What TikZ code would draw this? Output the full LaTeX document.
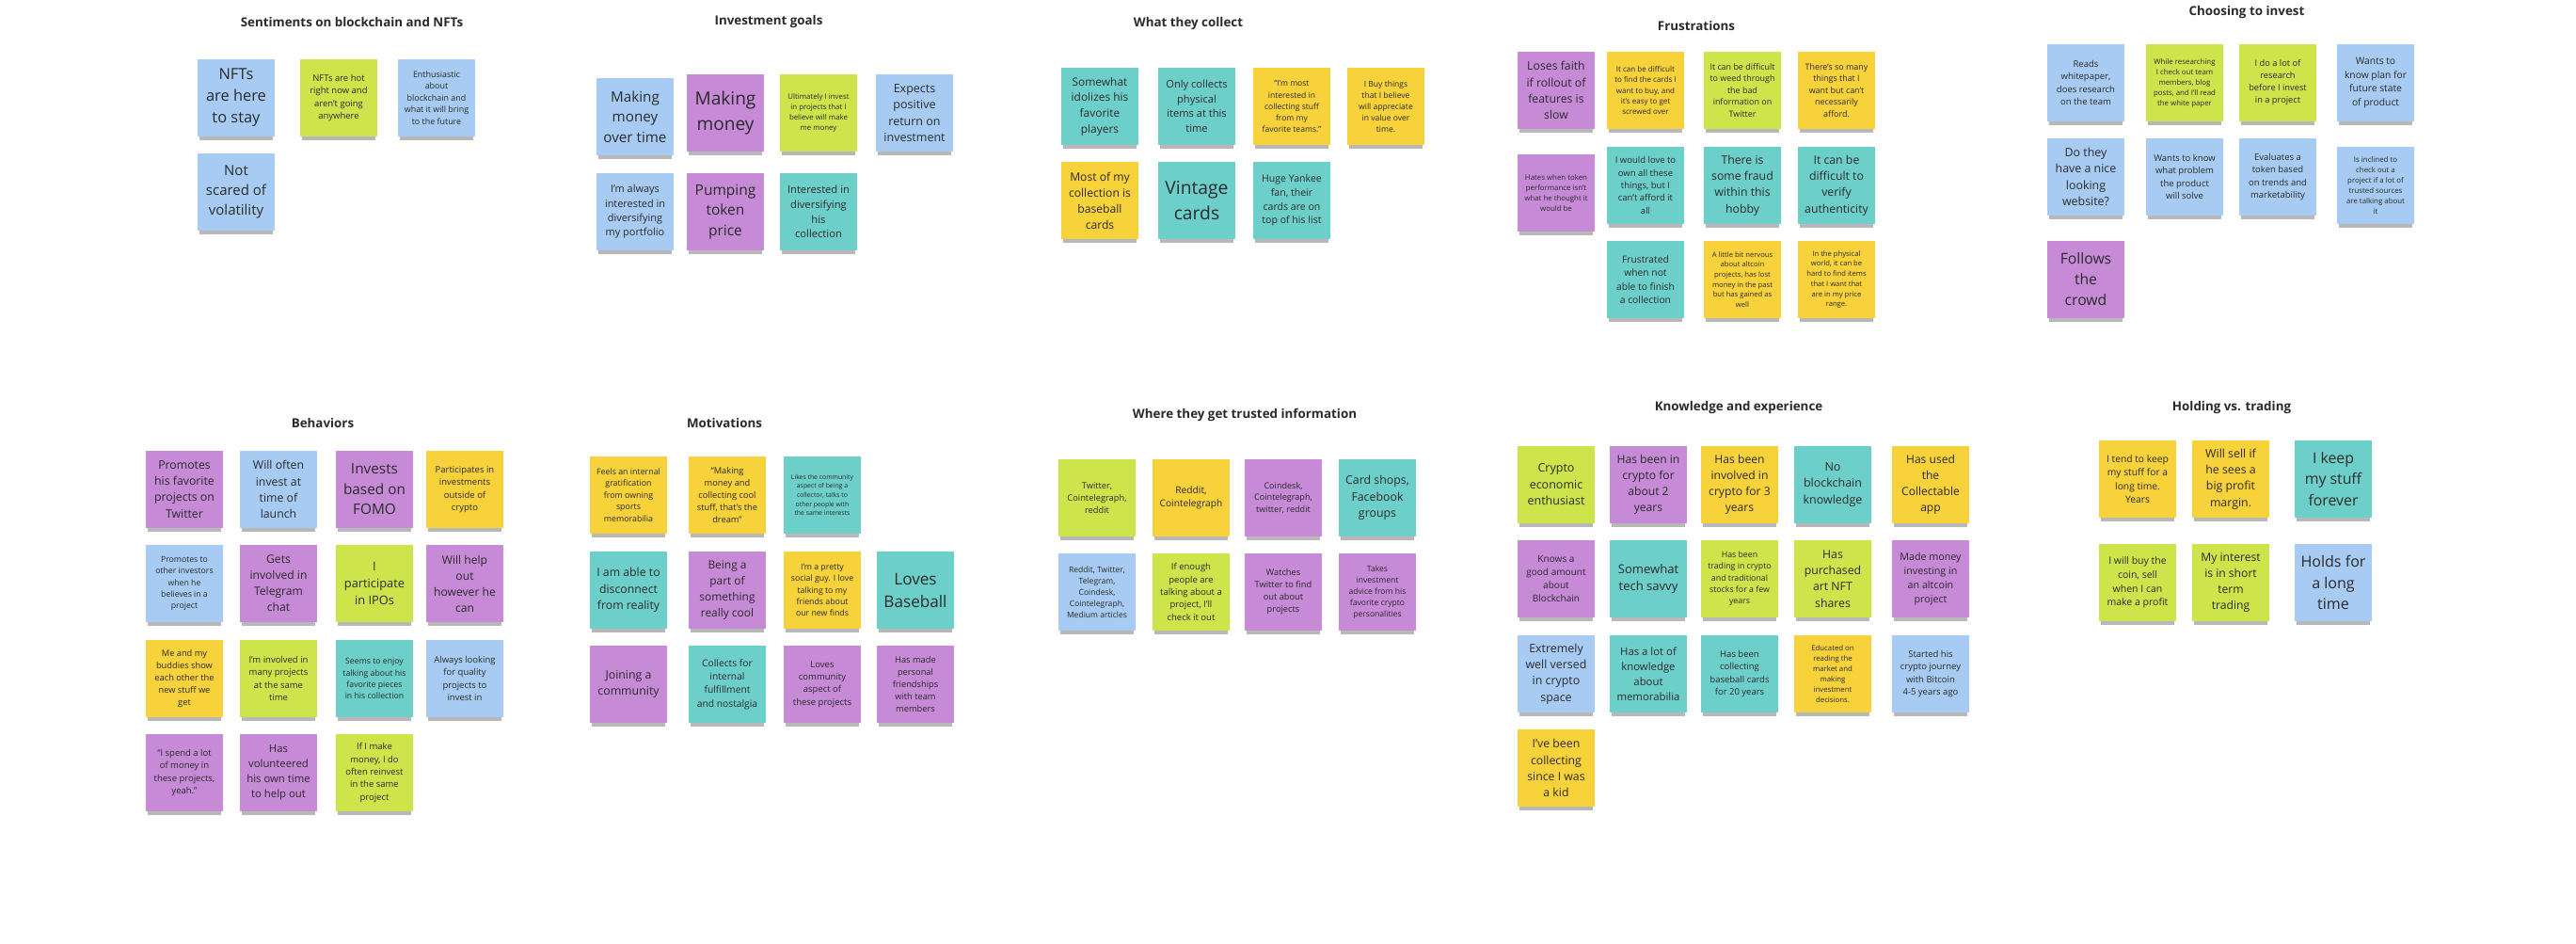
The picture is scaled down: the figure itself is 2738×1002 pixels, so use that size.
\documentclass[tikz,border=0pt]{standalone}
\usepackage{fontspec}
\setmainfont{Open Sans}
\usetikzlibrary{shadows}
\definecolor{sblue}{HTML}{A7CBF2}
\definecolor{sgreen}{HTML}{CDE54A}
\definecolor{spurple}{HTML}{C68AD7}
\definecolor{syellow}{HTML}{F8D23A}
\definecolor{steal}{HTML}{6DCFC9}
\definecolor{stext}{HTML}{2A2A2A}
\tikzset{
  sticky/.style={minimum width=0.82cm, minimum height=0.82cm, inner sep=0.5pt, align=center, text=stext,
    drop shadow={shadow xshift=0cm, shadow yshift=-0.055cm, shadow scale=0.96, opacity=0.28, fill=black}},
  grouptitle/.style={font=\bfseries\fontsize{3.8pt}{4.6pt}\selectfont, text=stext, inner sep=0pt}
}
\newcommand\sticky[6]{%
  \pgfmathsetmacro\stfs{#5*0.203}\pgfmathsetmacro\stbs{#5*0.2845}%
  \node[sticky, fill=#4, font=\fontsize{\stfs pt}{\stbs pt}\selectfont] (#1) at (#2,#3) {#6};}
\begin{document}
\begin{tikzpicture}[x=0.01cm, y=-0.01cm]
\fill[white] (0,0) rectangle (2738,1002);
\useasboundingbox (0,0) rectangle (2738,1002);
% ---------- Sentiments
\node[grouptitle] (tsent) at (374,23) {Sentiments on blockchain and NFTs};
\sticky{s1}{251}{104}{sblue}{23}{NFTs\\are here\\to stay}
\sticky{s2}{360}{104}{sgreen}{13.3}{NFTs are hot\\right now and\\aren't going\\anywhere}
\sticky{s3}{464}{104}{sblue}{12.5}{Enthusiastic\\about\\blockchain and\\what it will bring\\to the future}
\sticky{s4}{251}{204}{sblue}{21}{Not\\scared of\\volatility}
% ---------- Investment goals
\node[grouptitle] (tgoal) at (817,23) {Investment goals};
\sticky{g1}{675}{124}{sblue}{21.3}{Making\\money\\over time}
\sticky{g2}{771}{120}{spurple}{26.7}{Making\\money}
\sticky{g3}{870}{120}{sgreen}{11}{Ultimately I invest\\in projects that I\\believe will make\\me money}
\sticky{g4}{972}{120}{sblue}{17.5}{Expects\\positive\\return on\\investment}
\sticky{g5}{675}{225}{sblue}{15.3}{I'm always\\interested in\\diversifying\\my portfolio}
\sticky{g6}{771}{225}{spurple}{21.7}{Pumping\\token\\price}
\sticky{g7}{870}{225}{steal}{15.7}{Interested in\\diversifying\\his\\collection}
% ---------- What they collect
\node[grouptitle] (tcoll) at (1263,25) {What they collect};
\sticky{c1}{1169}{113}{steal}{16.7}{Somewhat\\idolizes his\\favorite\\players}
\sticky{c2}{1272}{113}{steal}{15.6}{Only collects\\physical\\items at this\\time}
\sticky{c3}{1373}{113}{syellow}{12}{“I'm most\\interested in\\collecting stuff\\from my\\favorite teams.”}
\sticky{c4}{1473}{113}{syellow}{12}{I Buy things\\that I believe\\will appreciate\\in value over\\time.}
\sticky{c5}{1169}{213}{syellow}{17}{Most of my\\collection is\\baseball\\cards}
\sticky{c6}{1272}{213}{steal}{27}{Vintage\\cards}
\sticky{c7}{1373}{213}{steal}{14.8}{Huge Yankee\\fan, their\\cards are on\\top of his list}
% ---------- Frustrations
\node[grouptitle] (tfrus) at (1803,27) {Frustrations};
\sticky{f1}{1654}{96}{spurple}{17.2}{Loses faith\\if rollout of\\features is\\slow}
\sticky{f2}{1749}{96}{syellow}{11.25}{It can be difficult\\to find the cards I\\want to buy, and\\it's easy to get\\screwed over}
\sticky{f3}{1852}{96}{sgreen}{12.5}{It can be difficult\\to weed through\\the bad\\information on\\Twitter}
\sticky{f4}{1952}{96}{syellow}{12.5}{There's so many\\things that I\\want but can't\\necessarily\\afford.}
\sticky{f5}{1654}{205}{spurple}{11}{Hates when token\\performance isn't\\what he thought it\\would be}
\sticky{f6}{1749}{197}{steal}{13.3}{I would love to\\own all these\\things, but I\\can't afford it\\all}
\sticky{f7}{1852}{197}{steal}{17.2}{There is\\some fraud\\within this\\hobby}
\sticky{f8}{1952}{197}{steal}{17.2}{It can be\\difficult to\\verify\\authenticity}
\sticky{f9}{1749}{297}{steal}{14.4}{Frustrated\\when not\\able to finish\\a collection}
\sticky{f10}{1852}{297}{syellow}{10.7}{A little bit nervous\\about altcoin\\projects, has lost\\money in the past\\but has gained as\\well}
\sticky{f11}{1952}{297}{syellow}{10.7}{In the physical\\world, it can be\\hard to find items\\that I want that\\are in my price\\range.}
% ---------- Choosing to invest
\node[grouptitle] (tchoo) at (2388,13) {Choosing to invest};
\sticky{h1}{2217}{88}{sblue}{13.3}{Reads\\whitepaper,\\does research\\on the team}
\sticky{h2}{2322}{88}{sgreen}{11}{While researching\\I check out team\\members, blog\\posts, and I'll read\\the white paper}
\sticky{h3}{2421}{88}{sgreen}{13}{I do a lot of\\research\\before I invest\\in a project}
\sticky{h4}{2525}{88}{sblue}{14.4}{Wants to\\know plan for\\future state\\of product}
\sticky{h5}{2217}{188}{sblue}{17.4}{Do they\\have a nice\\looking\\website?}
\sticky{h6}{2322}{188}{sblue}{13.3}{Wants to know\\what problem\\the product\\will solve}
\sticky{h7}{2421}{188}{sblue}{13.3}{Evaluates a\\token based\\on trends and\\marketability}
\sticky{h8}{2525}{197}{sblue}{11}{Is inclined to\\check out a\\project if a lot of\\trusted sources\\are talking about\\it}
\sticky{h9}{2217}{297}{spurple}{22}{Follows\\the\\crowd}
% ---------- Behaviors
\node[grouptitle] (tbeh) at (343,449) {Behaviors};
\sticky{b1}{196}{520}{spurple}{17.2}{Promotes\\his favorite\\projects on\\Twitter}
\sticky{b2}{296}{520}{sblue}{17.2}{Will often\\invest at\\time of\\launch}
\sticky{b3}{398}{520}{spurple}{21.5}{Invests\\based on\\FOMO}
\sticky{b4}{494}{520}{syellow}{13.3}{Participates in\\investments\\outside of\\crypto}
\sticky{b5}{196}{620}{sblue}{12.2}{Promotes to\\other investors\\when he\\believes in a\\project}
\sticky{b6}{296}{620}{spurple}{17}{Gets\\involved in\\Telegram\\chat}
\sticky{b7}{398}{620}{sgreen}{18}{I\\participate\\in IPOs}
\sticky{b8}{494}{620}{spurple}{17}{Will help\\out\\however he\\can}
\sticky{b9}{196}{721}{syellow}{13}{Me and my\\buddies show\\each other the\\new stuff we\\get}
\sticky{b10}{296}{721}{sgreen}{13.3}{I'm involved in\\many projects\\at the same\\time}
\sticky{b11}{398}{721}{steal}{12.2}{Seems to enjoy\\talking about his\\favorite pieces\\in his collection}
\sticky{b12}{494}{721}{sblue}{13.3}{Always looking\\for quality\\projects to\\invest in}
\sticky{b13}{196}{821}{spurple}{13.3}{“I spend a lot\\of money in\\these projects,\\yeah.”}
\sticky{b14}{296}{821}{spurple}{15.9}{Has\\volunteered\\his own time\\to help out}
\sticky{b15}{398}{821}{sgreen}{13.3}{If I make\\money, I do\\often reinvest\\in the same\\project}
% ---------- Motivations
\node[grouptitle] (tmot) at (770,449) {Motivations};
\sticky{m1}{668}{526}{syellow}{12.4}{Feels an internal\\gratification\\from owning\\sports\\memorabilia}
\sticky{m2}{773}{526}{syellow}{13}{“Making\\money and\\collecting cool\\stuff, that's the\\dream”}
\sticky{m3}{874}{526}{steal}{9.6}{Likes the community\\aspect of being a\\collector, talks to\\other people with\\the same interests}
\sticky{m4}{668}{627}{steal}{17.2}{I am able to\\disconnect\\from reality}
\sticky{m5}{773}{627}{spurple}{16.7}{Being a\\part of\\something\\really cool}
\sticky{m6}{874}{627}{syellow}{12.3}{I'm a pretty\\social guy. I love\\talking to my\\friends about\\our new finds}
\sticky{m7}{973}{627}{steal}{24}{Loves\\Baseball}
\sticky{m8}{668}{727}{spurple}{17.3}{Joining a\\community}
\sticky{m9}{773}{727}{steal}{14.4}{Collects for\\internal\\fulfillment\\and nostalgia}
\sticky{m10}{874}{727}{spurple}{13.3}{Loves\\community\\aspect of\\these projects}
\sticky{m11}{973}{727}{spurple}{13}{Has made\\personal\\friendships\\with team\\members}
% ---------- Where they get trusted information
\node[grouptitle] (twhere) at (1323,441) {Where they get trusted information};
\sticky{w1}{1166}{529}{sgreen}{13}{Twitter,\\Cointelegraph,\\reddit}
\sticky{w2}{1266}{529}{syellow}{14.3}{Reddit,\\Cointelegraph}
\sticky{w3}{1364}{529}{spurple}{12.7}{Coindesk,\\Cointelegraph,\\twitter, reddit}
\sticky{w4}{1464}{529}{steal}{17.3}{Card shops,\\Facebook\\groups}
\sticky{w5}{1166}{629}{sblue}{12}{Reddit, Twitter,\\Telegram,\\Coindesk,\\Cointelegraph,\\Medium articles}
\sticky{w6}{1266}{629}{sgreen}{13.3}{If enough\\people are\\talking about a\\project, I'll\\check it out}
\sticky{w7}{1364}{629}{spurple}{13}{Watches\\Twitter to find\\out about\\projects}
\sticky{w8}{1464}{629}{spurple}{12}{Takes\\investment\\advice from his\\favorite crypto\\personalities}
% ---------- Knowledge and experience
\node[grouptitle] (tknow) at (1848,433) {Knowledge and experience};
\sticky{k1}{1654}{515}{sgreen}{17.5}{Crypto\\economic\\enthusiast}
\sticky{k2}{1752}{515}{spurple}{17}{Has been in\\crypto for\\about 2\\years}
\sticky{k3}{1849}{515}{syellow}{17}{Has been\\involved in\\crypto for 3\\years}
\sticky{k4}{1948}{515}{steal}{17.5}{No\\blockchain\\knowledge}
\sticky{k5}{2052}{515}{syellow}{16.9}{Has used\\the\\Collectable\\app}
\sticky{k6}{1654}{615}{spurple}{14.1}{Knows a\\good amount\\about\\Blockchain}
\sticky{k7}{1752}{615}{steal}{18.3}{Somewhat\\tech savvy}
\sticky{k8}{1849}{615}{sgreen}{12.3}{Has been\\trading in crypto\\and traditional\\stocks for a few\\years}
\sticky{k9}{1948}{615}{sgreen}{17.2}{Has\\purchased\\art NFT\\shares}
\sticky{k10}{2052}{615}{spurple}{15}{Made money\\investing in\\an altcoin\\project}
\sticky{k11}{1654}{716}{sblue}{17.4}{Extremely\\well versed\\in crypto\\space}
\sticky{k12}{1752}{716}{steal}{15.9}{Has a lot of\\knowledge\\about\\memorabilia}
\sticky{k13}{1849}{716}{steal}{13.3}{Has been\\collecting\\baseball cards\\for 20 years}
\sticky{k14}{1948}{716}{syellow}{10.9}{Educated on\\reading the\\market and\\making\\investment\\decisions.}
\sticky{k15}{2052}{716}{sblue}{13.3}{Started his\\crypto journey\\with Bitcoin\\4-5 years ago}
\sticky{k16}{1654}{816}{syellow}{17.2}{I've been\\collecting\\since I was\\a kid}
% ---------- Holding vs. trading
\node[grouptitle] (thold) at (2372,433) {Holding vs. trading};
\sticky{o1}{2272}{509}{syellow}{14.4}{I tend to keep\\my stuff for a\\long time.\\Years}
\sticky{o2}{2371}{509}{syellow}{17.3}{Will sell if\\he sees a\\big profit\\margin.}
\sticky{o3}{2480}{509}{steal}{22.2}{I keep\\my stuff\\forever}
\sticky{o4}{2272}{619}{sgreen}{14.7}{I will buy the\\coin, sell\\when I can\\make a profit}
\sticky{o5}{2371}{619}{sgreen}{17}{My interest\\is in short\\term\\trading}
\sticky{o6}{2480}{619}{sblue}{22.5}{Holds for\\a long\\time}
\end{tikzpicture}
\end{document}
